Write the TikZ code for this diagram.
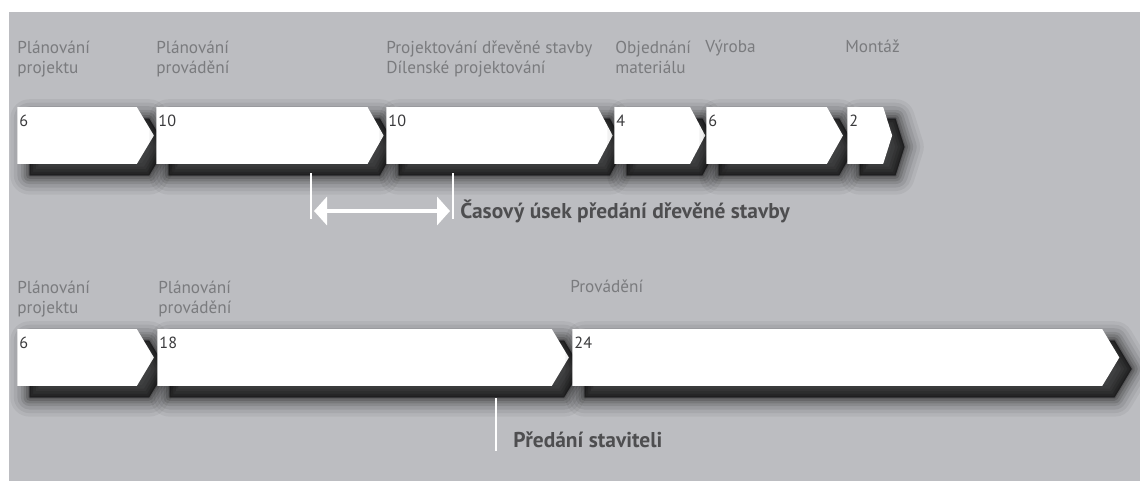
\documentclass[tikz,border=0pt]{standalone}
\usepackage{fontspec}
\setmainfont{PT Sans}
\usetikzlibrary{shapes.symbols,arrows.meta}
\definecolor{bggray}{HTML}{BCBDC1}
\definecolor{labgray}{HTML}{7A7B7E}
\definecolor{numgray}{HTML}{3A3A3C}
\definecolor{notegray}{HTML}{4E4E50}
\begin{document}
\begin{tikzpicture}[x=0.02cm,y=-0.02cm,>={Triangle[length=7.4pt,width=16pt]},
  sh/.style 2 args={preaction={draw=black,fill=black,line join=round,line width=#1,opacity=#2,
    transform canvas={xshift=7pt,yshift=-6.5pt}}},
  soft shadow/.style={sh={22pt}{0.05},sh={18pt}{0.06},sh={14pt}{0.08},sh={10pt}{0.1},
    sh={7pt}{0.12},sh={4pt}{0.14},sh={1.5pt}{0.16},sh={0.1pt}{0.16}},
  phase/.style 2 args={shape=signal,signal to=east,signal from=nowhere,fill=white,
    anchor=west,inner xsep=1.2pt,inner ysep=0pt,text height=10.77pt,text depth=21.54pt,
    align=left,text width=#1,signal pointer angle=#2,text=numgray,
    font=\fontsize{9.2}{10}\selectfont,soft shadow},
  lab/.style={anchor=base west,align=left,inner sep=0pt,text=labgray,
    font=\fontsize{9.8}{11.3}\selectfont},
  note/.style={anchor=base west,inner sep=0pt,text=notegray,
    font=\fontsize{12.2}{13}\selectfont\bfseries},
  tick/.style={draw=white,line width=1.7pt}]
\useasboundingbox (0,0) rectangle (1140,481);
\fill[bggray] (9,12) rectangle (1140,481);
% upper row
\node[lab] (l1) at (17,73) {Plánování\\projektu};
\node[lab] (l2) at (156,73) {Plánování\\provádění};
\node[lab] (l3) at (386,73) {Projektování dřevěné stavby\\Dílenské projektování};
\node[lab] (l4) at (615,73) {Objednání\\materiálu};
\node[lab] (l5) at (705,52) {Výroba};
\node[lab] (l6) at (845,52) {Montáž};
\node[phase={65.6pt}{118}] (b1) at (17,135.5) {6};
\node[phase={117.8pt}{121}] (b2) at (156,135.5) {10};
\node[phase={117.8pt}{124}] (b3) at (386,135.5) {10};
\node[phase={40.7pt}{124}] (b4) at (614,135.5) {4};
\node[phase={66.2pt}{121}] (b5) at (706,135.5) {6};
\node[phase={18pt}{145}] (b6) at (847,135.5) {2};
%
\coordinate (t1) at (311,173); \coordinate (t1e) at (311,219);
\coordinate (t2) at (453,173); \coordinate (t2e) at (453,219);
\coordinate (a1) at (314,211); \coordinate (a2) at (450,211);
\draw[tick] (t1) -- (t1e) (t2) -- (t2e);
\draw[white,line width=2.5pt,<->] (a1) -- (a2);
\node[note] (n1) at (460,218) {Časový úsek předání dřevěné stavby};
% lower row
\node[lab] (m1) at (17,313) {Plánování\\projektu};
\node[lab] (m2) at (158,313) {Plánování\\provádění};
\node[lab] (m3) at (570,292) {Provádění};
\node[phase={65.6pt}{118}] (c1) at (17,357.5) {6};
\node[phase={222.1pt}{118}] (c2) at (157,357.5) {18};
\node[phase={299.2pt}{118}] (c3) at (572,357.5) {24};
%
\coordinate (h1) at (496,398); \coordinate (h2) at (496,451);
\draw[tick] (h1) -- (h2);
\node[note] (n2) at (513,447) {Předání staviteli};
\end{tikzpicture}
\end{document}
